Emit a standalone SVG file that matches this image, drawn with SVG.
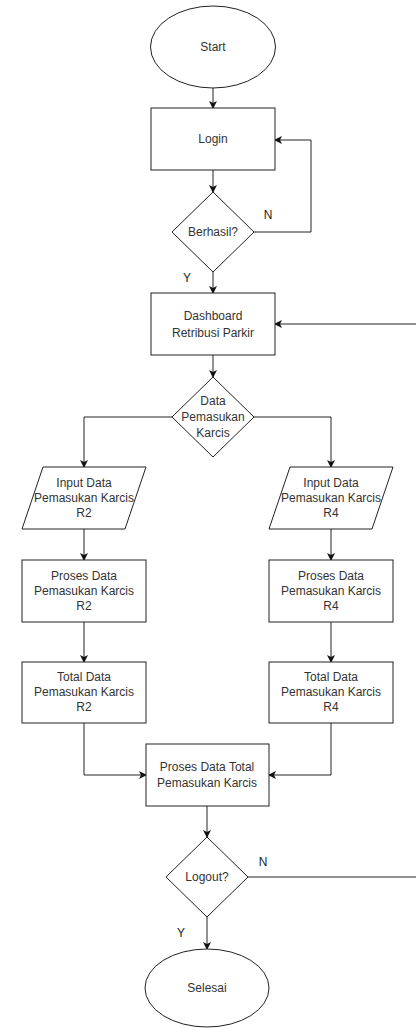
<svg xmlns="http://www.w3.org/2000/svg" width="416" height="1028" viewBox="0 0 416 1028">
<style>
.s{fill:#fff;stroke:#222;stroke-width:1}
.c{fill:none;stroke:#222;stroke-width:1}
text{font-family:"Liberation Sans",Arial,sans-serif;font-size:12px;fill:#333;text-anchor:middle;dominant-baseline:central}
.l{font-size:12px;fill:#222}
</style>
<defs>
<marker id="a" markerWidth="8" markerHeight="8" refX="7" refY="4" orient="auto" markerUnits="userSpaceOnUse">
<path d="M0,0 L8,4 L0,8 L2,4 Z" fill="#111"/>
</marker>
</defs>
<rect width="416" height="1028" fill="#fff"/>
<g id="connectors">
<path class="c" d="M213,88 V108" marker-end="url(#a)"/>
<path class="c" d="M213,170 V192" marker-end="url(#a)"/>
<path class="c" d="M253,232 H311 V140 H275" marker-end="url(#a)"/>
<path class="c" d="M213,272 V293" marker-end="url(#a)"/>
<path class="c" d="M213,355 V377" marker-end="url(#a)"/>
<path class="c" d="M172,417 H84 V467" marker-end="url(#a)"/>
<path class="c" d="M254,417 H331 V467" marker-end="url(#a)"/>
<path class="c" d="M84,529 V560" marker-end="url(#a)"/>
<path class="c" d="M331,529 V560" marker-end="url(#a)"/>
<path class="c" d="M84,622 V662" marker-end="url(#a)"/>
<path class="c" d="M331,622 V662" marker-end="url(#a)"/>
<path class="c" d="M84,723 V775 H146" marker-end="url(#a)"/>
<path class="c" d="M331,723 V775 H269" marker-end="url(#a)"/>
<path class="c" d="M207,806 V837" marker-end="url(#a)"/>
<path class="c" d="M207,917 V949" marker-end="url(#a)"/>
<path class="c" d="M248,877 H440 V324 H275" marker-end="url(#a)"/>
<text class="l" x="268" y="215">N</text>
<text class="l" x="187" y="278">Y</text>
<text class="l" x="263" y="862">N</text>
<text class="l" x="181" y="933">Y</text>
</g>
<g id="start">
<ellipse class="s" cx="213" cy="47" rx="62.5" ry="41"/>
<text x="213" y="47">Start</text>
</g>
<g id="login">
<rect class="s" x="151" y="108" width="124" height="62"/>
<text x="213" y="139">Login</text>
</g>
<g id="berhasil">
<polygon class="s" points="213,192 254,232 213,272 172,232"/>
<text x="213" y="232">Berhasil?</text>
</g>
<g id="dashboard">
<rect class="s" x="151" y="293" width="124" height="62"/>
<text x="213" y="316">Dashboard</text>
<text x="213" y="333">Retribusi Parkir</text>
</g>
<g id="data-pemasukan">
<polygon class="s" points="213,377 254,417 213,457 172,417"/>
<text x="213" y="401">Data</text>
<text x="213" y="417">Pemasukan</text>
<text x="213" y="433">Karcis</text>
</g>
<g id="input-r2">
<polygon class="s" points="43,467 146,467 125,529 22,529"/>
<text x="84" y="483">Input Data</text>
<text x="84" y="498">Pemasukan Karcis</text>
<text x="84" y="513">R2</text>
</g>
<g id="input-r4">
<polygon class="s" points="290,467 393,467 372,529 269,529"/>
<text x="331" y="483">Input Data</text>
<text x="331" y="498">Pemasukan Karcis</text>
<text x="331" y="513">R4</text>
</g>
<g id="proses-r2">
<rect class="s" x="22" y="560" width="124" height="62"/>
<text x="84" y="576">Proses Data</text>
<text x="84" y="591">Pemasukan Karcis</text>
<text x="84" y="606">R2</text>
</g>
<g id="proses-r4">
<rect class="s" x="269" y="560" width="124" height="62"/>
<text x="331" y="576">Proses Data</text>
<text x="331" y="591">Pemasukan Karcis</text>
<text x="331" y="606">R4</text>
</g>
<g id="total-r2">
<rect class="s" x="22" y="662" width="124" height="61"/>
<text x="84" y="677">Total Data</text>
<text x="84" y="692">Pemasukan Karcis</text>
<text x="84" y="707">R2</text>
</g>
<g id="total-r4">
<rect class="s" x="269" y="662" width="124" height="61"/>
<text x="331" y="677">Total Data</text>
<text x="331" y="692">Pemasukan Karcis</text>
<text x="331" y="707">R4</text>
</g>
<g id="proses-total">
<rect class="s" x="146" y="744" width="123" height="62"/>
<text x="207" y="767">Proses Data Total</text>
<text x="207" y="783">Pemasukan Karcis</text>
</g>
<g id="logout">
<polygon class="s" points="207,837 248,877 207,917 166,877"/>
<text x="207" y="877">Logout?</text>
</g>
<g id="selesai">
<ellipse class="s" cx="207" cy="988" rx="62" ry="39"/>
<text x="207" y="988">Selesai</text>
</g>
</svg>
